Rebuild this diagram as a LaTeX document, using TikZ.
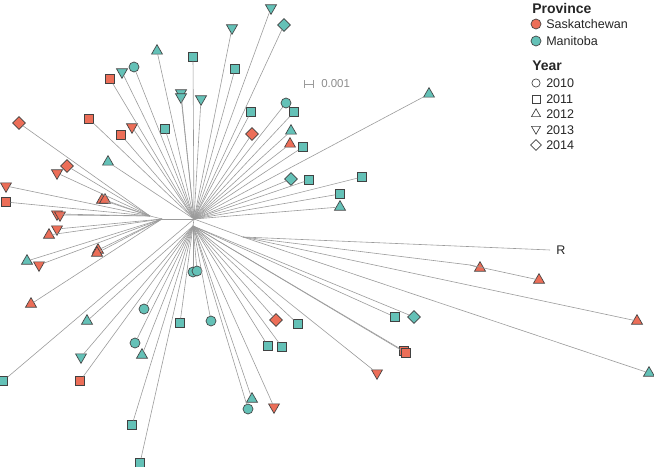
\documentclass[tikz,border=0pt]{standalone}
\usepackage{fontspec}
\setmainfont{Liberation Sans}
\usetikzlibrary{shapes.geometric}

\definecolor{skred}{RGB}{236,110,88}
\definecolor{mbteal}{RGB}{100,193,183}
\definecolor{edgegray}{RGB}{65,65,65}
\definecolor{branchgray}{RGB}{155,155,155}

\tikzset{
  tip/.style={draw=edgegray, line width=0.5pt, inner sep=0pt, outer sep=0pt},
  y10/.style={tip, circle, minimum size=7.5pt},
  y11/.style={tip, rectangle, minimum size=7pt},
  y12/.style={tip, regular polygon, regular polygon sides=3, minimum size=9.5pt},
  y13/.style={y12, shape border rotate=180},
  y14/.style={tip, diamond, minimum size=9.5pt},
  sk/.style={fill=skred},
  mb/.style={fill=mbteal},
  open/.style={fill=white},
  branch/.style={draw=branchgray, line width=0.45pt},
  legtext/.style={anchor=west, inner sep=0pt, text=black!85, font=\fontsize{9.4}{11}\selectfont},
  legtitle/.style={anchor=west, inner sep=0pt, text=black!85, font=\fontsize{10.5}{12}\selectfont\bfseries},
}

\begin{document}
\begin{tikzpicture}[x=0.75pt,y=0.75pt,yscale=-1]

\useasboundingbox (0,0) rectangle (654,467);

% Hubs
\coordinate (h0) at (194,219);
\coordinate (hd) at (193,226);
\coordinate (hl2) at (162,219);
\coordinate (hl1) at (150,216);
\coordinate (hr) at (243,237);
\coordinate (rt) at (470,265);
\coordinate (rend) at (550,250);

\draw[branch] (h0) -- (hd);
\draw[branch] (h0) -- (hl2);
\draw[branch] (hl2) -- (hl1);
\draw[branch] (h0) -- (hr);
\draw[branch] (hr) -- (rt);
\draw[branch] (hr) -- (rend);

% Tips above the hub
\node[y12,mb] (t01) at (157,51) {};
\node[y11,mb] (t02) at (193,57) {};
\node[y11,sk] (t03) at (110,79) {};
\node[y13,mb] (t04) at (122,72) {};
\node[y10,mb] (t05) at (134,67) {};
\node[y13,mb] (t06) at (181,93) {};
\node[y13,mb] (t07) at (181,97) {};
\node[y13,mb] (t08) at (201,99) {};
\node[y11,sk] (t09) at (89,119) {};
\node[y13,sk] (t10) at (132,127) {};
\node[y11,sk] (t11) at (121,135) {};
\node[y11,mb] (t12) at (165,129) {};
\node[y12,mb] (t13) at (108,162) {};
\node[y13,mb] (t14) at (271,8) {};
\node[y14,mb] (t15) at (284,25) {};
\node[y13,mb] (t16) at (232,28) {};
\node[y11,mb] (t17) at (235,69) {};
\node[y12,mb] (t18) at (429,94) {};
\node[y10,mb] (t19) at (286,103) {};
\node[y11,mb] (t20) at (251,112) {};
\node[y11,mb] (t21) at (294,112) {};
\node[y14,sk] (t22) at (252,134) {};
\node[y12,mb] (t23) at (291,131) {};
\node[y12,sk] (t24) at (290,144) {};
\node[y11,mb] (t25) at (303,147) {};
\node[y14,mb] (t26) at (291,179) {};
\node[y11,mb] (t27) at (309,180) {};
\node[y11,mb] (t28) at (362,177) {};
\node[y11,mb] (t29) at (340,194) {};
\node[y12,mb] (t30) at (340,207) {};
\node[y11,mb] (t31) at (3,381) {};

\draw[branch] (h0) -- (t01);
\draw[branch] (h0) -- (t02);
\draw[branch] (h0) -- (t03);
\draw[branch] (h0) -- (t04);
\draw[branch] (h0) -- (t05);
\draw[branch] (h0) -- (t06);
\draw[branch] (h0) -- (t07);
\draw[branch] (h0) -- (t08);
\draw[branch] (h0) -- (t09);
\draw[branch] (h0) -- (t10);
\draw[branch] (h0) -- (t11);
\draw[branch] (h0) -- (t12);
\draw[branch] (h0) -- (t13);
\draw[branch] (h0) -- (t14);
\draw[branch] (h0) -- (t15);
\draw[branch] (h0) -- (t16);
\draw[branch] (h0) -- (t17);
\draw[branch] (h0) -- (t18);
\draw[branch] (h0) -- (t19);
\draw[branch] (h0) -- (t20);
\draw[branch] (h0) -- (t21);
\draw[branch] (h0) -- (t22);
\draw[branch] (h0) -- (t23);
\draw[branch] (h0) -- (t24);
\draw[branch] (h0) -- (t25);
\draw[branch] (h0) -- (t26);
\draw[branch] (h0) -- (t27);
\draw[branch] (h0) -- (t28);
\draw[branch] (h0) -- (t29);
\draw[branch] (h0) -- (t30);
\draw[branch] (h0) -- (t31);

% Tips on the left
\node[y14,sk] (t32) at (19,123) {};
\node[y14,sk] (t33) at (67,166) {};
\node[y13,sk] (t34) at (57,173) {};
\node[y13,sk] (t35) at (6,186) {};
\node[y11,sk] (t36) at (6,202) {};
\node[y12,sk] (t37) at (102,200) {};
\node[y12,sk] (t38) at (105,200) {};
\node[y13,sk] (t39) at (57,214) {};
\node[y13,sk] (t40) at (60,215) {};
\node[y13,sk] (t41) at (57,229) {};
\node[y12,sk] (t42) at (49,235) {};
\node[y12,sk] (t43) at (98,250) {};
\node[y12,sk] (t44) at (97,253) {};
\node[y12,mb] (t45) at (27,261) {};
\node[y13,sk] (t46) at (39,265) {};
\node[y12,sk] (t47) at (31,304) {};

\draw[branch] (hl1) -- (t32);
\draw[branch] (hl1) -- (t33);
\draw[branch] (hl1) -- (t34);
\draw[branch] (hl1) -- (t35);
\draw[branch] (hl1) -- (t36);
\draw[branch] (hl1) -- (t37);
\draw[branch] (hl1) -- (t38);
\draw[branch] (hl1) -- (t39);
\draw[branch] (hl1) -- (t40);
\draw[branch] (hl2) -- (t41);
\draw[branch] (hl2) -- (t42);
\draw[branch] (hl2) -- (t43);
\draw[branch] (hl2) -- (t44);
\draw[branch] (hl2) -- (t45);
\draw[branch] (hl2) -- (t46);
\draw[branch] (hl2) -- (t47);

% Tips below the hub
\node[y10,mb] (t48) at (193,272) {};
\node[y10,mb] (t49) at (197,271) {};
\node[y10,mb] (t50) at (144,309) {};
\node[y12,mb] (t51) at (87,321) {};
\node[y11,mb] (t52) at (180,323) {};
\node[y10,mb] (t53) at (211,321) {};
\node[y10,mb] (t54) at (135,343) {};
\node[y12,mb] (t55) at (142,355) {};
\node[y13,mb] (t56) at (81,357) {};
\node[y11,sk] (t57) at (80,381) {};
\node[y11,mb] (t58) at (132,425) {};
\node[y11,mb] (t59) at (140,463) {};
\node[y14,sk] (t60) at (276,320) {};
\node[y11,mb] (t61) at (298,324) {};
\node[y11,mb] (t62) at (268,346) {};
\node[y11,mb] (t63) at (282,347) {};
\node[y11,mb] (t64) at (395,317) {};
\node[y14,mb] (t65) at (414,317) {};
\node[y11,sk] (t66) at (404,351) {};
\node[y11,sk] (t67) at (406,353) {};
\node[y13,sk] (t68) at (377,373) {};
\node[y12,mb] (t69) at (252,399) {};
\node[y10,mb] (t70) at (248,409) {};
\node[y13,sk] (t71) at (274,407) {};

\draw[branch] (hd) -- (t48);
\draw[branch] (hd) -- (t49);
\draw[branch] (hd) -- (t50);
\draw[branch] (hd) -- (t51);
\draw[branch] (hd) -- (t52);
\draw[branch] (hd) -- (t53);
\draw[branch] (hd) -- (t54);
\draw[branch] (hd) -- (t55);
\draw[branch] (hd) -- (t56);
\draw[branch] (hd) -- (t57);
\draw[branch] (hd) -- (t58);
\draw[branch] (hd) -- (t59);
\draw[branch] (hd) -- (t60);
\draw[branch] (hd) -- (t61);
\draw[branch] (hd) -- (t62);
\draw[branch] (hd) -- (t63);
\draw[branch] (hd) -- (t64);
\draw[branch] (hd) -- (t65);
\draw[branch] (hd) -- (t66);
\draw[branch] (hd) -- (t67);
\draw[branch] (hd) -- (t68);
\draw[branch] (hd) -- (t69);
\draw[branch] (hd) -- (t70);
\draw[branch] (hd) -- (t71);

% Long branches to the right
\node[y12,sk] (t72) at (480,268) {};
\node[y12,sk] (t73) at (539,280) {};
\node[y12,sk] (t74) at (637,321) {};
\node[y12,mb] (t75) at (649,373) {};

\draw[branch] (rt) -- (t72);
\draw[branch] (rt) -- (t73);
\draw[branch] (hr) -- (t74);
\draw[branch] (hr) -- (t75);

\node[anchor=west, inner sep=0pt, text=black!85, font=\fontsize{9.4}{11}\selectfont] (rlab) at (556,250) {R};

% Scale bar
\coordinate (sb0) at (304,84);
\coordinate (sb1) at (314,84);
\draw[branchgray, line width=0.6pt, |-|] (sb0) -- (sb1);
\node[anchor=west, inner sep=0pt, text=black!45, font=\fontsize{8.6}{10}\selectfont] (sblab) at (321,84) {0.001};

% Legend
\node[legtitle] (provtitle) at (532,8) {Province};
\node[y10,sk] (legsk) at (536,24) {};
\node[legtext] (legsktxt) at (546,24.5) {Saskatchewan};
\node[y10,mb] (legmb) at (536,41) {};
\node[legtext] (legmbtxt) at (546,41.5) {Manitoba};

\node[legtitle] (yeartitle) at (532,66) {Year};
\node[y10,open,minimum size=6.2pt] (leg10) at (536,83) {};
\node[legtext] (leg10txt) at (546,83) {2010};
\node[y11,open,minimum size=5.8pt] (leg11) at (536,99) {};
\node[legtext] (leg11txt) at (546,99) {2011};
\node[y12,open,minimum size=7.8pt] (leg12) at (536,114) {};
\node[legtext] (leg12txt) at (546,114.5) {2012};
\node[y13,open,minimum size=7.8pt] (leg13) at (536,129) {};
\node[legtext] (leg13txt) at (546,130) {2013};
\node[y14,open,minimum size=8pt] (leg14) at (536,145) {};
\node[legtext] (leg14txt) at (546,145.5) {2014};

\end{tikzpicture}
\end{document}
